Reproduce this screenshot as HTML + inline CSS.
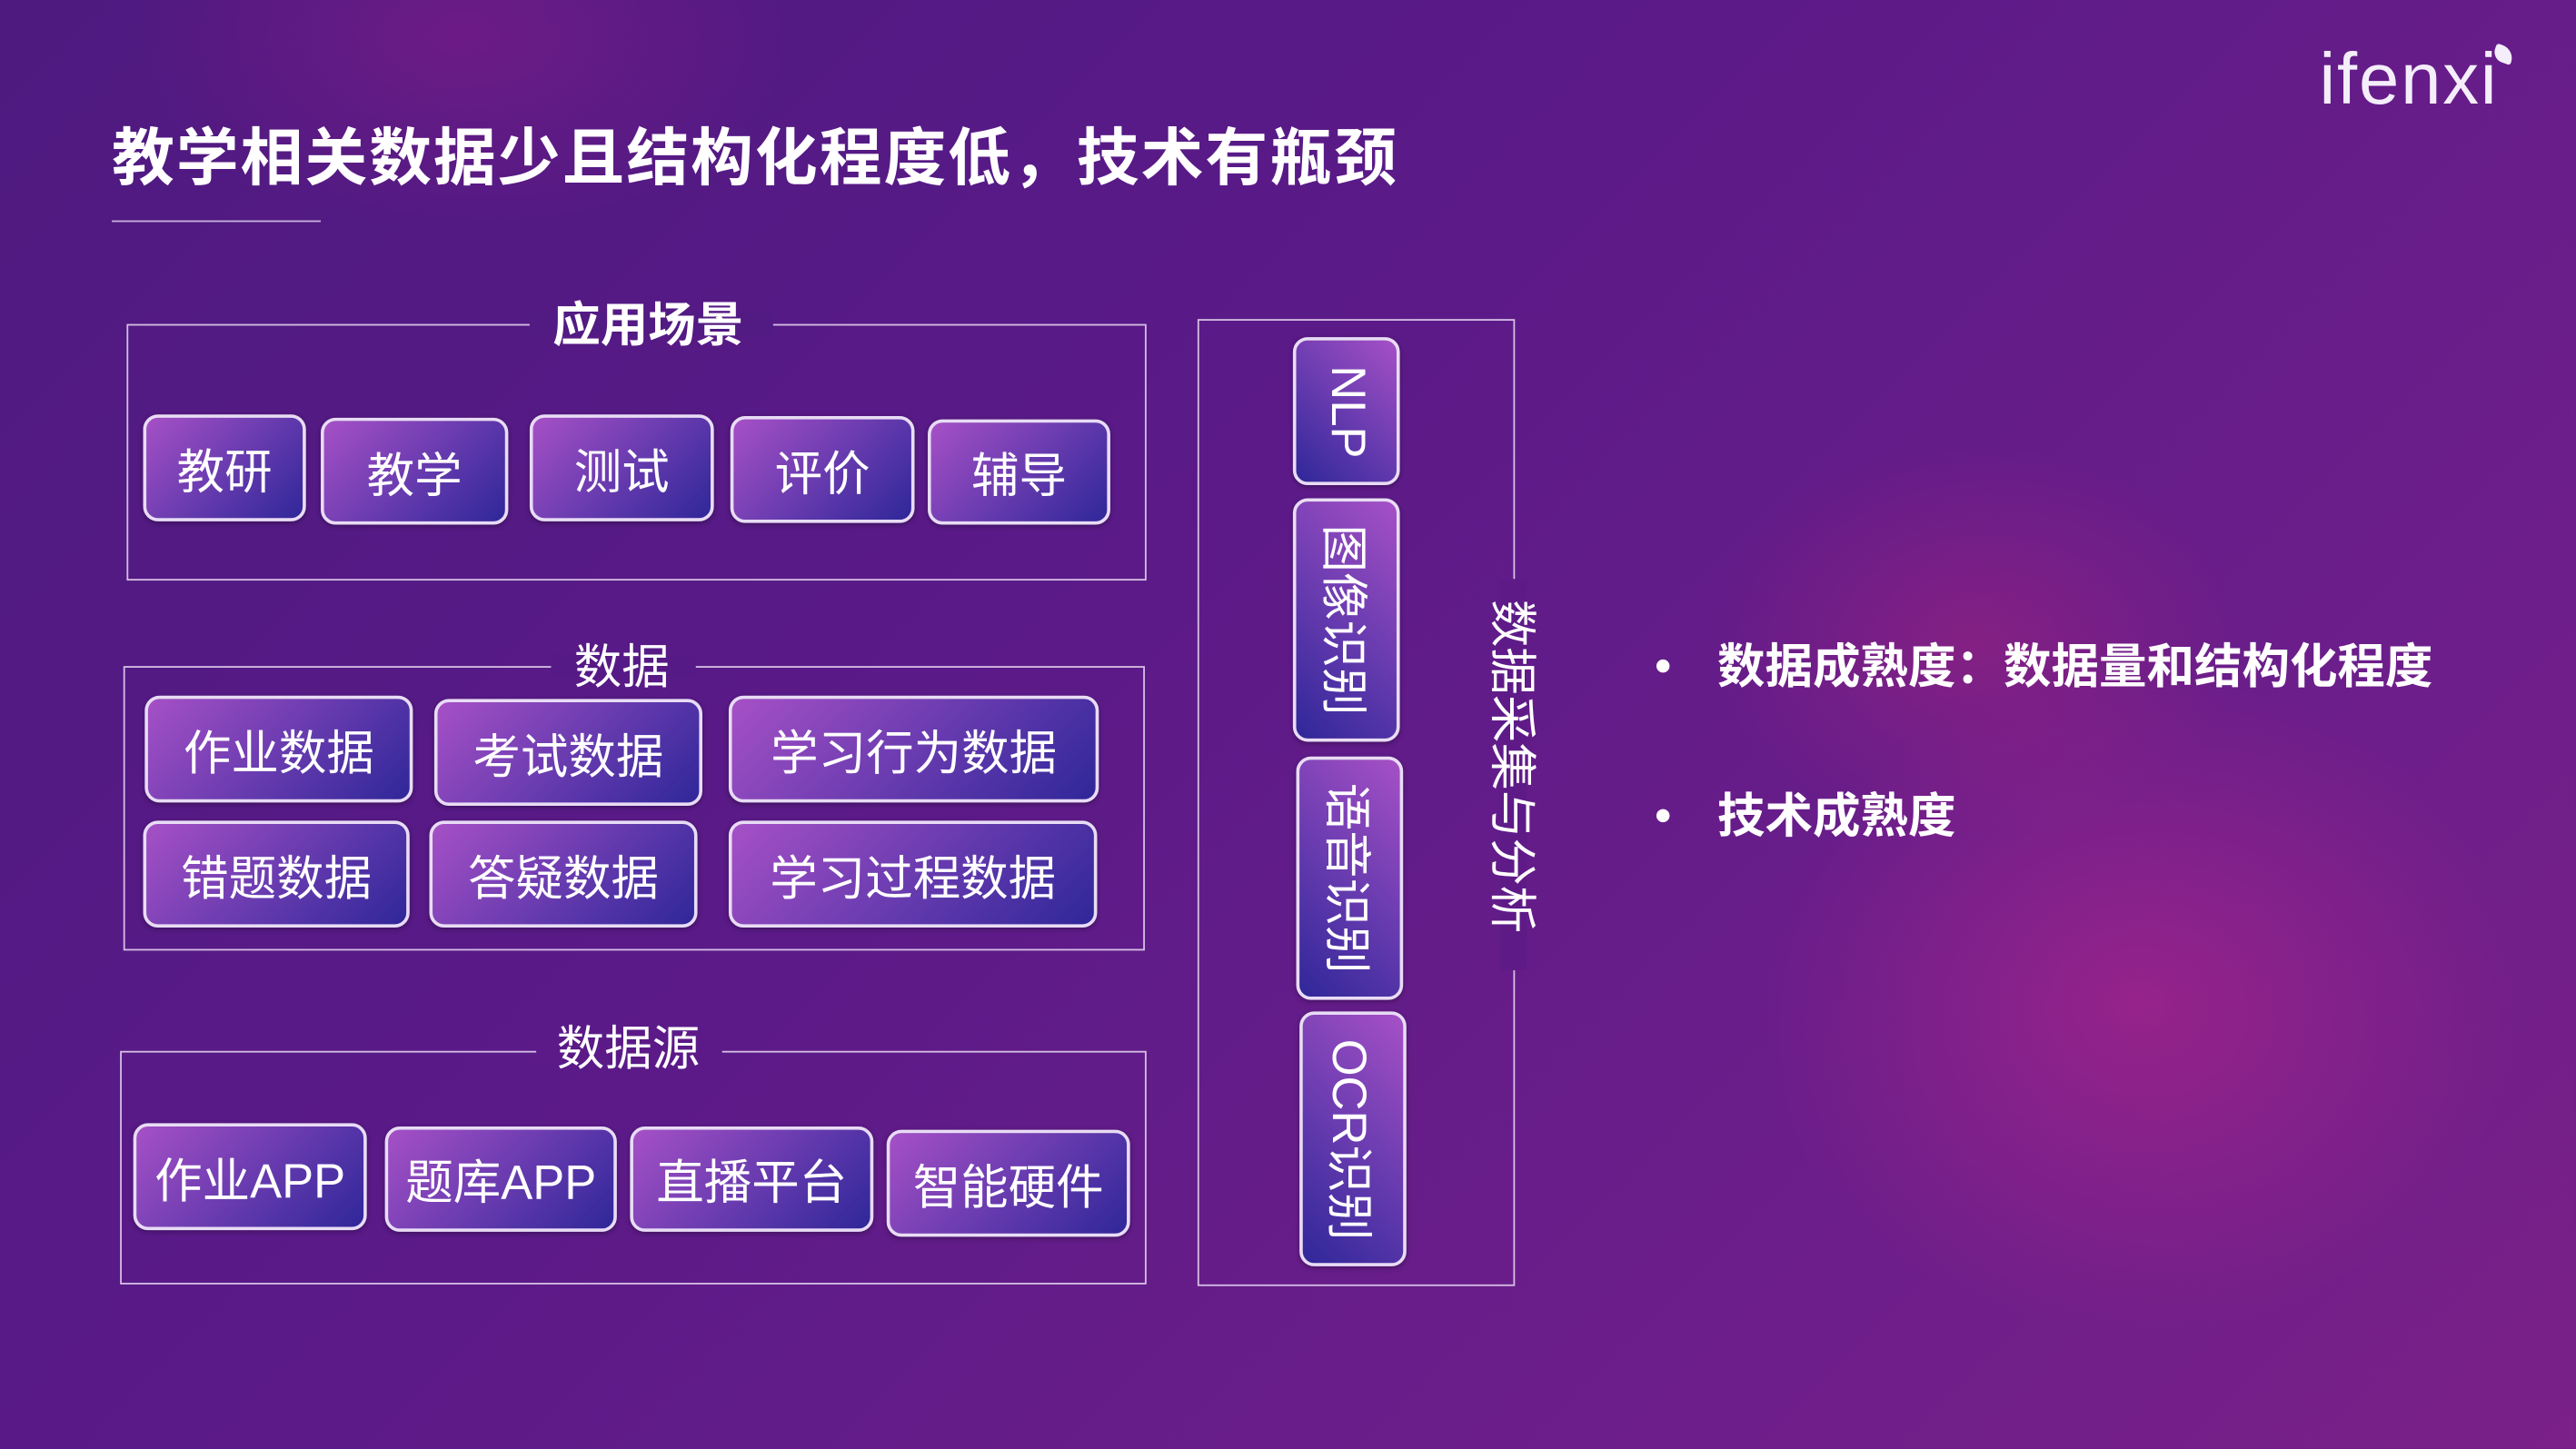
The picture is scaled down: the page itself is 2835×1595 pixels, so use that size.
<!DOCTYPE html>
<html><head><meta charset="utf-8">
<style>
html,body{margin:0;padding:0;width:2835px;height:1595px;overflow:hidden;background:#5c1a86;}
#w{position:absolute;left:0;top:0;width:1566px;height:881px;transform:scale(1.8103);transform-origin:0 0;
font-family:"Liberation Sans","Noto Sans CJK SC",sans-serif;color:#fff;
background:
radial-gradient(ellipse 230px 200px at 1300px 610px, rgba(190,40,140,0.5), rgba(190,40,140,0) 100%),
radial-gradient(ellipse 160px 120px at 1200px 390px, rgba(200,40,120,0.3), rgba(200,40,120,0) 100%),
radial-gradient(ellipse 200px 120px at 280px 20px, rgba(170,30,140,0.3), rgba(170,30,140,0) 100%),
linear-gradient(135deg,#4e1a80 0%,#5a1a88 40%,#6c1e8a 75%,#7a2088 100%);
overflow:hidden;}
.a{position:absolute;}
.box{position:absolute;border:1px solid rgba(235,220,245,0.85);box-sizing:border-box;}
.lbl{position:absolute;background:transparent;font-size:29px;line-height:1;white-space:nowrap;transform:translate(-50%,-50%);}
.btn{position:absolute;box-sizing:border-box;border:2px solid #e8dcf5;border-radius:9px;
background:linear-gradient(135deg,#a650c6 0%,#6a3cb0 50%,#2f2799 100%);
display:flex;align-items:center;justify-content:center;font-size:29px;white-space:nowrap;
box-shadow:0 1px 3px rgba(0,0,0,0.3);}
.v{background:linear-gradient(225deg,#a650c6 0%,#6a3cb0 50%,#2f2799 100%);}
.v span{display:inline-block;transform:rotate(90deg);white-space:nowrap;}
.gap{position:absolute;background:#5b1a87;}
</style></head><body>
<div id="w">
<div class="a" style="left:68px;top:75px;font-size:38px;letter-spacing:1.1px;font-weight:bold;white-space:nowrap;line-height:44px;">教学相关数据少且结构化程度低，技术有瓶颈</div>
<div class="a" style="left:68px;top:134px;width:127px;height:1px;background:rgba(230,215,245,0.8)"></div>
<div class="a" style="left:1410px;top:24px;font-size:44px;line-height:50px;letter-spacing:1px;color:#f4eefa;">ifenxi</div>
<div class="a" style="left:1516px;top:28px;width:12px;height:10px;background:#f4eefa;border-radius:2px 10px 2px 8px;transform:rotate(20deg)"></div>

<div class="box" style="left:77px;top:197px;width:620px;height:156px"></div>
<div class="gap" style="left:322px;top:190px;width:148px;height:14px;background:#521a83"></div>
<div class="lbl" style="left:394px;top:199px;font-weight:bold;font-size:29px">应用场景</div>
<div class="btn" style="left:87px;top:252px;width:99px;height:65px">教研</div>
<div class="btn" style="left:195px;top:254px;width:114px;height:65px">教学</div>
<div class="btn" style="left:322px;top:252px;width:112px;height:65px">测试</div>
<div class="btn" style="left:444px;top:253px;width:112px;height:65px">评价</div>
<div class="btn" style="left:564px;top:255px;width:111px;height:64px">辅导</div>

<div class="box" style="left:75px;top:405px;width:621px;height:173px"></div>
<div class="gap" style="left:335px;top:398px;width:88px;height:14px;background:#561a86"></div>
<div class="lbl" style="left:378px;top:407px">数据</div>
<div class="btn" style="left:88px;top:423px;width:163px;height:65px">作业数据</div>
<div class="btn" style="left:264px;top:425px;width:163px;height:65px">考试数据</div>
<div class="btn" style="left:443px;top:423px;width:225px;height:65px">学习行为数据</div>
<div class="btn" style="left:87px;top:499px;width:162px;height:65px">错题数据</div>
<div class="btn" style="left:261px;top:499px;width:163px;height:65px">答疑数据</div>
<div class="btn" style="left:443px;top:499px;width:224px;height:65px">学习过程数据</div>

<div class="box" style="left:73px;top:639px;width:624px;height:142px"></div>
<div class="gap" style="left:326px;top:632px;width:113px;height:14px;background:#5b1a87"></div>
<div class="lbl" style="left:382px;top:639px">数据源</div>
<div class="btn" style="left:81px;top:683px;width:142px;height:65px">作业APP</div>
<div class="btn" style="left:234px;top:685px;width:141px;height:64px">题库APP</div>
<div class="btn" style="left:383px;top:685px;width:148px;height:64px">直播平台</div>
<div class="btn" style="left:539px;top:687px;width:148px;height:65px">智能硬件</div>

<div class="box" style="left:728px;top:194px;width:193px;height:588px"></div>
<div class="gap" style="left:912px;top:352px;width:16px;height:238px;background:#5e1b88"></div>
<div class="a" style="left:918px;top:466px;font-size:29px;white-space:nowrap;transform:translate(-50%,-50%) rotate(90deg);line-height:1">数据采集与分析</div>
<div class="btn v" style="left:786px;top:205px;width:65px;height:90px"><span>NLP</span></div>
<div class="btn v" style="left:786px;top:303px;width:65px;height:148px"><span>图像识别</span></div>
<div class="btn v" style="left:788px;top:460px;width:65px;height:148px"><span>语音识别</span></div>
<div class="btn v" style="left:790px;top:615px;width:65px;height:155px"><span>OCR识别</span></div>

<div class="a" style="left:1007px;top:401px;width:8px;height:8px;border-radius:50%;background:#fff"></div>
<div class="a" style="left:1044px;top:388px;font-size:29px;font-weight:bold;line-height:36px;white-space:nowrap">数据成熟度：数据量和结构化程度</div>
<div class="a" style="left:1007px;top:492px;width:8px;height:8px;border-radius:50%;background:#fff"></div>
<div class="a" style="left:1044px;top:479px;font-size:29px;font-weight:bold;line-height:36px;white-space:nowrap">技术成熟度</div>
</div>
</body></html>
